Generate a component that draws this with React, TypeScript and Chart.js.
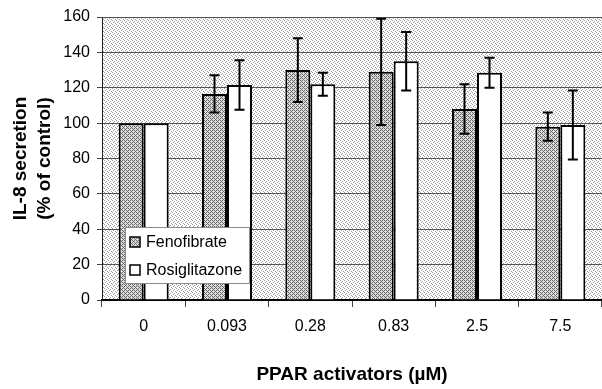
import React, { useEffect, useRef } from "react";
import { Chart, registerables } from "chart.js";

Chart.register(...registerables);

const categories = ["0", "0.093", "0.28", "0.83", "2.5", "7.5"];
const fenofibrate = [100, 116.5, 130, 129, 108, 98];
const fenofibrateErr = [0, 10.5, 18, 30, 14, 8];
const rosiglitazone = [100, 121.5, 122, 135, 128.5, 99];
const rosiglitazoneErr = [0, 14, 6.5, 16.5, 8.5, 19.5];
const seriesNames = ["Fenofibrate", "Rosiglitazone"];
const yMin = 0;
const yMax = 160;
const yStep = 20;

const FONT = "'Liberation Sans', Arial, Helvetica, sans-serif";

function makePattern(size: number, bg: string, fg: string, dots: number[][]) {
  const c = document.createElement("canvas");
  c.width = size;
  c.height = size;
  const g = c.getContext("2d")!;
  g.fillStyle = bg;
  g.fillRect(0, 0, size, size);
  g.fillStyle = fg;
  dots.forEach(([x, y]) => g.fillRect(x, y, 1, 1));
  return g.createPattern(c, "repeat")!;
}

export default function App() {
  const ref = useRef<HTMLCanvasElement | null>(null);

  useEffect(() => {
    document.body.style.margin = "0";
    const canvas = ref.current!;
    const ctx = canvas.getContext("2d")!;

    const bgPattern = makePattern(4, "#ffffff", "#9a9a9a", [
      [0, 0], [2, 1], [1, 2], [3, 3],
    ]);
    const fenoPattern = makePattern(4, "#dcdcdc", "#6a6a6a", [
      [0, 0], [2, 0], [0, 2], [2, 2], [1, 1], [3, 3],
    ]);

    const errors = [fenofibrateErr, rosiglitazoneErr];
    const fills: any[] = [fenoPattern, "#ffffff"];

    const bgPlugin = {
      id: "plotBg",
      beforeDraw(chart: any) {
        const a = chart.chartArea;
        const c = chart.ctx;
        c.save();
        c.fillStyle = bgPattern;
        c.fillRect(a.left, a.top, a.right - a.left, a.bottom - a.top);
        c.restore();
      },
    };

    const errPlugin = {
      id: "errBars",
      afterDatasetsDraw(chart: any) {
        const c = chart.ctx;
        const y = chart.scales.y;
        c.save();
        c.strokeStyle = "#000";
        c.lineWidth = 2;
        chart.data.datasets.forEach((ds: any, i: number) => {
          const meta = chart.getDatasetMeta(i);
          meta.data.forEach((el: any, j: number) => {
            const e = errors[i][j];
            if (!e) return;
            const v = ds.data[j];
            const top = y.getPixelForValue(v + e);
            const bot = y.getPixelForValue(v - e);
            const x = el.x;
            c.beginPath();
            c.moveTo(x, top);
            c.lineTo(x, bot);
            c.moveTo(x - 5, top);
            c.lineTo(x + 5, top);
            c.moveTo(x - 5, bot);
            c.lineTo(x + 5, bot);
            c.stroke();
          });
        });
        c.restore();
      },
    };

    const legendPlugin = {
      id: "boxLegend",
      afterDraw(chart: any) {
        const c = chart.ctx;
        const x0 = 125;
        const y0 = 227;
        const w = 124;
        const h = 56;
        c.save();
        c.fillStyle = "#ffffff";
        c.fillRect(x0, y0, w, h);
        c.strokeStyle = "#8c8c8c";
        c.lineWidth = 1;
        c.strokeRect(x0 + 0.5, y0 + 0.5, w, h);
        c.font = `16px ${FONT}`;
        c.textBaseline = "middle";
        c.textAlign = "left";
        chart.data.datasets.forEach((ds: any, i: number) => {
          const cy = 242 + i * 28;
          c.fillStyle = fills[i];
          c.fillRect(130, cy - 5, 10, 10);
          c.strokeStyle = "#000";
          c.lineWidth = 1.5;
          c.strokeRect(130, cy - 5, 10, 10);
          c.fillStyle = "#000";
          c.fillText(ds.label, 146, cy + 1);
        });
        c.restore();
      },
    };

    const chart = new Chart(ctx, {
      type: "bar",
      data: {
        labels: categories,
        datasets: [
          {
            label: seriesNames[0],
            data: fenofibrate,
            backgroundColor: fenoPattern as any,
            borderColor: "#000",
            borderWidth: 2,
            categoryPercentage: 0.6,
            barPercentage: 1,
          },
          {
            label: seriesNames[1],
            data: rosiglitazone,
            backgroundColor: "#ffffff",
            borderColor: "#000",
            borderWidth: 2,
            categoryPercentage: 0.6,
            barPercentage: 1,
          },
        ],
      },
      options: {
        responsive: false,
        animation: false,
        layout: { padding: { top: 17, right: 0, left: 0, bottom: 0 } },
        plugins: {
          legend: { display: false },
          tooltip: { enabled: false },
        },
        scales: {
          x: {
            offset: true,
            grid: {
              display: true,
              drawOnChartArea: false,
              drawTicks: true,
              tickLength: 7,
              tickColor: "#444",
              offset: true,
            },
            border: { display: true, color: "#000", width: 2 },
            ticks: {
              color: "#000",
              font: { family: FONT, size: 16 },
              padding: 10,
              maxRotation: 0,
            },
            title: {
              display: true,
              text: "PPAR activators (\u00b5M)",
              color: "#000",
              font: { family: FONT, size: 19, weight: "bold" },
              padding: { top: 0, bottom: 3 },
            },
            afterFit(scale: any) {
              scale.height = 89;
            },
          },
          y: {
            min: yMin,
            max: yMax,
            ticks: {
              stepSize: yStep,
              color: "#000",
              font: { family: FONT, size: 16 },
              padding: 7,
            },
            grid: {
              color: "#555",
              lineWidth: 1,
              tickLength: 5,
              tickColor: "#444",
            },
            border: { display: true, color: "#222", width: 1 },
            title: {
              display: true,
              text: ["IL-8 secretion", "(% of control)"],
              color: "#000",
              font: { family: FONT, size: 19, weight: "bold", lineHeight: 1.25 },
              padding: { top: 9, bottom: 0 },
            },
            afterFit(scale: any) {
              scale.width = 102;
            },
          },
        },
      },
      plugins: [bgPlugin, errPlugin, legendPlugin],
    });

    return () => chart.destroy();
  }, []);

  return (
    <div style={{ position: "absolute", left: 0, top: 0, width: 602, height: 389 }}>
      <canvas ref={ref} width={602} height={389} />
    </div>
  );
}
